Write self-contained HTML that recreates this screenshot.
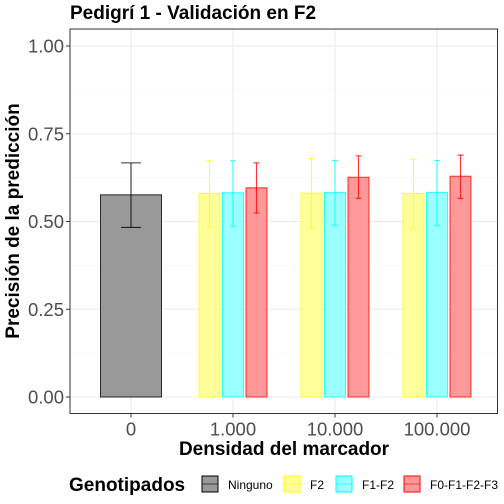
<!DOCTYPE html>
<html><head><meta charset="utf-8"><style>
body{margin:0;background:#fff;}
svg{display:block;font-family:"Liberation Sans",sans-serif;}
</style></head><body>
<svg id="c" width="504" height="504" viewBox="0 0 504 504">
<text x="70" y="19" font-size="19" font-weight="bold" fill="#000">Pedigrí 1 - Validación en F2</text>
<g id="grid"></g><g id="bars"></g><g id="axes"></g>
<text transform="translate(19,221) rotate(-90)" text-anchor="middle" font-size="19" font-weight="bold">Precisión de la predicción</text>
<text x="284" y="455" text-anchor="middle" font-size="19" font-weight="bold">Densidad del marcador</text>
<g>
<text x="69" y="491" font-size="19" font-weight="bold">Genotipados</text>
<g id="leg"></g>
</g>
</svg>
<script>
const categories=["0","1.000","10.000","100.000"];
const seriesNames=["Ninguno","F2","F1-F2","F0-F1-F2-F3"];
const ningunoVal=[0.576];
const ningunoLo=[0.483];
const ningunoHi=[0.667];
const f2Val=[0.580,0.581,0.580];
const f2Lo=[0.485,0.482,0.482];
const f2Hi=[0.673,0.679,0.677];
const f1f2Val=[0.582,0.583,0.583];
const f1f2Lo=[0.487,0.489,0.489];
const f1f2Hi=[0.673,0.674,0.674];
const f0Val=[0.596,0.626,0.629];
const f0Lo=[0.524,0.566,0.566];
const f0Hi=[0.667,0.687,0.689];
const yTicks=[0,0.25,0.5,0.75,1.0];
const yTickLabels=["0.00","0.25","0.50","0.75","1.00"];

const NS="http://www.w3.org/2000/svg";
const L=70,R=497.5,T=29,B=413.5;
const y=v=>397-v*351;
const xc=i=>131+i*102;
function mk(tag,attrs,parent){const e=document.createElementNS(NS,tag);for(const k in attrs)e.setAttribute(k,attrs[k]);parent.appendChild(e);return e;}
const grid=document.getElementById('grid'),bars=document.getElementById('bars'),axes=document.getElementById('axes');
for(let i=0;i<yTicks.length-1;i++){const g=mk('line',{x1:L,x2:R,y1:y((yTicks[i]+yTicks[i+1])/2),y2:y((yTicks[i]+yTicks[i+1])/2),stroke:'#f2f2f2','stroke-width':0.6},grid);

}
yTicks.forEach((t,i)=>{const g=mk('line',{x1:L,x2:R,y1:y(t),y2:y(t),stroke:'#ebebeb','stroke-width':1.1},grid);


mk('line',{x1:L-4,x2:L,y1:y(t),y2:y(t),stroke:'#333','stroke-width':1},axes);
const tx=mk('text',{x:L-6,y:y(t)+6.5,'text-anchor':'end','font-size':18.5,fill:'#4d4d4d'},axes);tx.textContent=yTickLabels[i];

});
categories.forEach((c,i)=>{const g=mk('line',{x1:xc(i),x2:xc(i),y1:T,y2:B,stroke:'#ebebeb','stroke-width':1.1},grid);


mk('line',{x1:xc(i),x2:xc(i),y1:B,y2:B+4,stroke:'#333','stroke-width':1},axes);
const tx=mk('text',{x:xc(i),y:B+22,'text-anchor':'middle','font-size':18.5,fill:'#4d4d4d'},axes);tx.textContent=c;

});
mk('rect',{x:L,y:T,width:R-L,height:B-T,fill:'none',stroke:'#333','stroke-width':1},axes);
const fills=["#999999","#ffff99","#99ffff","#ff9999"],strokes=["#000","#ffff00","#00ffff","#ff0000"];
function bar(cx,w,v,lo,hi,s,cap,name){
const r=mk('rect',{x:cx-w/2,y:y(v),width:w,height:y(0)-y(v),fill:fills[s],stroke:strokes[s],'stroke-width':1,'stroke-opacity':0.8},bars);


const sc=s===0?'#000':strokes[s];
mk('line',{x1:cx,x2:cx,y1:y(hi),y2:y(lo),stroke:sc,'stroke-width':1.1,'stroke-opacity':0.8},bars);
mk('line',{x1:cx-cap,x2:cx+cap,y1:y(hi),y2:y(hi),stroke:sc,'stroke-width':1.1,'stroke-opacity':0.8},bars);
mk('line',{x1:cx-cap,x2:cx+cap,y1:y(lo),y2:y(lo),stroke:sc,'stroke-width':1.1,'stroke-opacity':0.8},bars);}
bar(xc(0),61,ningunoVal[0],ningunoLo[0],ningunoHi[0],0,10,'bar-ninguno');
for(let j=0;j<3;j++){const cx=xc(j+1);
bar(cx-23.5,21,f2Val[j],f2Lo[j],f2Hi[j],1,3,'bar-f2');
bar(cx,21,f1f2Val[j],f1f2Lo[j],f1f2Hi[j],2,3,'bar-f1-f2');
bar(cx+23.5,21,f0Val[j],f0Lo[j],f0Hi[j],3,3,'bar-f0-f1-f2-f3');}
const leg=document.getElementById('leg');
const lx=[202,284,336,404];
seriesNames.forEach((n,i)=>{const g=mk('g',{},leg);


mk('rect',{x:lx[i],y:476,width:16,height:16,fill:fills[i],stroke:strokes[i],'stroke-width':1},g);
mk('line',{x1:lx[i],x2:lx[i]+16,y1:484,y2:484,stroke:i===0?'#000':strokes[i],'stroke-width':1,'stroke-opacity':0.6},g);
const t=mk('text',{x:lx[i]+26,y:489,'font-size':12},g);t.textContent=n;});
</script>
</body></html>
